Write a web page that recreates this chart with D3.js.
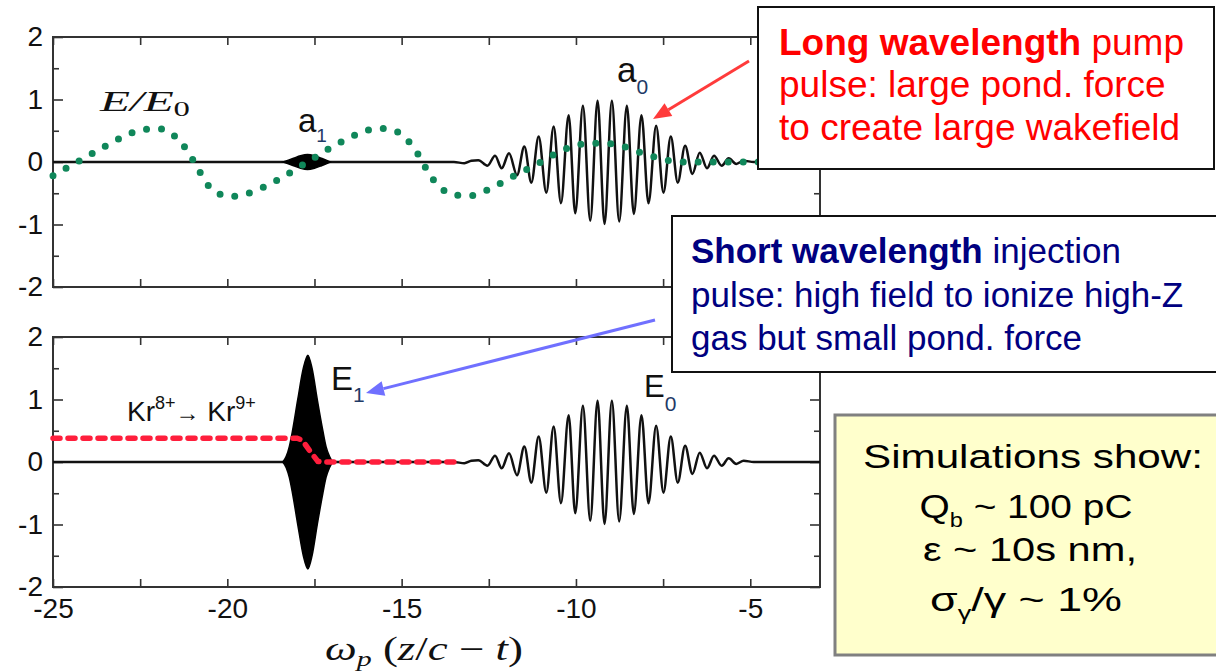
<!DOCTYPE html>
<html>
<head>
<meta charset="utf-8">
<script src="https://cdn.jsdelivr.net/npm/d3@7"></script>
<style>
  body { margin: 0; background: #ffffff; }
  svg { display: block; }
</style>
</head>
<body>
<div id="chart"></div>
<script>
// ==========================================================================
// DATA
// ==========================================================================

const xDomain = [-25, -3];
const yDomain = [-2, 2];
const xTickValues = [-25, -22.5, -20, -17.5, -15, -12.5, -10, -7.5, -5];
const xTickLabels = [-25, -20, -15, -10, -5];
const yMajorTicks = [-2, -1, 0, 1, 2];
const yMinorTicks = [-1.5, -0.5, 0.5, 1.5];

// pump pulse field (a0 / E0): extrema of the oscillation, [x, value]
const pumpPulse = [
  [-25, 0], [-13.5, 0], [-13.2, -0.02], [-13.0, 0.02], [-12.8, 0.03], [-12.54, -0.06],
  [-12.32, 0.10], [-12.13, -0.10], [-11.92, 0.14], [-11.69, -0.21], [-11.48, 0.25],
  [-11.28, -0.33], [-11.07, 0.41], [-10.85, -0.49], [-10.64, 0.57], [-10.43, -0.66],
  [-10.21, 0.75], [-10.02, -0.82], [-9.80, 0.90], [-9.59, -0.94], [-9.38, 0.98],
  [-9.18, -0.99], [-8.97, 0.98], [-8.76, -0.95], [-8.54, 0.90], [-8.34, -0.83],
  [-8.12, 0.75], [-7.92, -0.66], [-7.70, 0.58], [-7.49, -0.49], [-7.28, 0.41],
  [-7.08, -0.33], [-6.87, 0.26], [-6.66, -0.19], [-6.45, 0.15], [-6.24, -0.10],
  [-6.04, 0.10], [-5.82, -0.06], [-5.62, 0.06], [-5.40, -0.03], [-5.19, 0.02],
  [-4.9, 0], [-3, 0]
];

// wakefield E/E0 (green dots), [x, value]
const wakeField = [
  [-25.0, -0.22], [-24.4, -0.03], [-23.7, 0.19], [-23.0, 0.40], [-22.4, 0.52],
  [-21.9, 0.53], [-21.5, 0.41], [-21.1, 0.14], [-20.8, -0.15], [-20.4, -0.46],
  [-19.9, -0.55], [-19.4, -0.50], [-18.6, -0.30], [-17.7, 0.0], [-16.9, 0.27],
  [-16.2, 0.46], [-15.7, 0.54], [-15.2, 0.50], [-14.85, 0.36], [-14.5, 0.10],
  [-14.2, -0.20], [-13.9, -0.40], [-13.55, -0.52], [-13.05, -0.54], [-12.55, -0.45],
  [-11.9, -0.26], [-11.45, -0.13], [-11.0, 0.0], [-10.6, 0.13], [-10.15, 0.24],
  [-9.6, 0.30], [-9.2, 0.30], [-8.7, 0.26], [-8.3, 0.18], [-7.8, 0.09],
  [-7.4, 0.03], [-6.9, 0.0], [-3.0, 0.0]
];

// injection pulse envelopes, [x, amplitude]
const injectionA1 = [
  [-18.4, 0], [-18.1, 0.06], [-17.9, 0.10], [-17.7, 0.12], [-17.5, 0.10], [-17.3, 0.06], [-17.05, 0]
];
const injectionE1 = [
  [-18.41, 0], [-18.31, 0.09], [-18.22, 0.25], [-18.13, 0.5], [-17.98, 1.0], [-17.82, 1.5],
  [-17.69, 1.71], [-17.57, 1.5], [-17.42, 1.0], [-17.26, 0.5], [-17.17, 0.25], [-17.07, 0.09],
  [-16.98, 0]
];

// Kr8+ -> Kr9+ ionization fraction (red dashes), [x, value]
const krIonization = [
  [-25, 0.38], [-18.0, 0.38], [-17.85, 0.35], [-17.6, 0.15], [-17.4, 0.01], [-17.3, 0], [-13.5, 0]
];

// ==========================================================================
// CONFIG
// ==========================================================================

const CONFIG = {
  width: 1216,
  height: 672,
  left: 53,
  right: 820,
  topPanel: [37, 287],
  bottomPanel: [337, 587],
  tickFont: '"Liberation Sans", Arial, sans-serif',
  sans: '"Liberation Sans", Arial, sans-serif',
  serif: '"Liberation Serif", "Times New Roman", serif',
  colors: {
    line: '#111111',
    wake: '#10875a',
    ion: '#ff1e3c',
    red: '#ff0000',
    navy: '#000080',
    redArrow: '#ff3b3b',
    blueArrow: '#7070ff',
    sub: '#1f3a66'
  }
};

const svg = d3.select('#chart').append('svg')
  .attr('width', CONFIG.width)
  .attr('height', CONFIG.height);

const x = d3.scaleLinear().domain(xDomain).range([CONFIG.left, CONFIG.right]);
const yTop = d3.scaleLinear().domain(yDomain).range([CONFIG.topPanel[1], CONFIG.topPanel[0]]);
const yBot = d3.scaleLinear().domain(yDomain).range([CONFIG.bottomPanel[1], CONFIG.bottomPanel[0]]);

// ==========================================================================
// AXES / FRAMES
// ==========================================================================

function drawFrame(y, withXLabels) {
  const [y0, y1] = y.range();
  const g = svg.append('g').attr('class', 'frame');
  const fmt = d => String(d);

  g.append('g').attr('transform', `translate(${CONFIG.left},0)`)
    .call(d3.axisLeft(y).tickValues(yMajorTicks).tickSize(-10).tickPadding(10).tickFormat(fmt));
  g.append('g').attr('transform', `translate(${CONFIG.left},0)`)
    .call(d3.axisLeft(y).tickValues(yMinorTicks).tickSize(-6).tickFormat(''));
  g.append('g').attr('transform', `translate(${CONFIG.right},0)`)
    .call(d3.axisRight(y).tickValues(yMajorTicks).tickSize(-10).tickFormat(''));
  g.append('g').attr('transform', `translate(${CONFIG.right},0)`)
    .call(d3.axisRight(y).tickValues(yMinorTicks).tickSize(-6).tickFormat(''));
  g.append('g').attr('transform', `translate(0,${y1})`)
    .call(d3.axisTop(x).tickValues(xTickValues).tickSize(-8).tickFormat(''));
  g.append('g').attr('transform', `translate(0,${y0})`)
    .call(d3.axisBottom(x).tickValues(xTickValues).tickSize(-8).tickPadding(11)
      .tickFormat(d => withXLabels && xTickLabels.includes(d) ? String(d) : ''));

  g.selectAll('.domain').remove();
  g.selectAll('.tick line').attr('stroke', '#333').attr('stroke-width', 1.6);
  g.selectAll('.tick text')
    .attr('fill', '#111')
    .attr('font-family', CONFIG.tickFont)
    .attr('font-size', 28);

  g.append('rect')
    .attr('x', CONFIG.left).attr('y', y1)
    .attr('width', CONFIG.right - CONFIG.left).attr('height', y0 - y1)
    .attr('fill', 'none').attr('stroke', '#333').attr('stroke-width', 2);
}

// ==========================================================================
// CURVES
// ==========================================================================

function drawPanel(y, envelope, showIonization) {
  const line = d3.line().x(d => x(d[0])).y(d => y(d[1])).curve(d3.curveMonotoneX);
  const area = d3.area().x(d => x(d[0])).y0(d => y(-d[1])).y1(d => y(d[1])).curve(d3.curveMonotoneX);

  svg.append('path').datum(pumpPulse)
    .attr('d', line).attr('fill', 'none')
    .attr('stroke', CONFIG.colors.line).attr('stroke-width', 2.5);

  svg.append('path').datum(envelope)
    .attr('d', area).attr('fill', '#000')
    .attr('stroke', '#000').attr('stroke-width', 1.5);

  if (showIonization) {
    svg.append('path').datum(krIonization)
      .attr('d', d3.line().x(d => x(d[0])).y(d => y(d[1])))
      .attr('fill', 'none').attr('stroke', CONFIG.colors.ion)
      .attr('stroke-width', 5.5).attr('stroke-linecap', 'round')
      .attr('stroke-dasharray', '7,8');
  } else {
    svg.append('path').datum(wakeField)
      .attr('d', line).attr('fill', 'none')
      .attr('stroke', CONFIG.colors.wake).attr('stroke-width', 7)
      .attr('stroke-linecap', 'round').attr('stroke-dasharray', '0,15');
  }
}

// ==========================================================================
// LABELS
// ==========================================================================

function label(xp, yp, parts, opts) {
  const t = svg.append('text')
    .attr('x', xp).attr('y', yp)
    .style('font-family', opts.family || CONFIG.sans)
    .style('font-size', `${opts.size}px`)
    .attr('fill', opts.fill || '#111');
  if (opts.length) t.attr('textLength', opts.length).attr('lengthAdjust', 'spacingAndGlyphs');
  if (opts.anchor) t.attr('text-anchor', opts.anchor);
  parts.forEach(p => {
    const s = t.append('tspan').text(p.text);
    if (p.size) s.style('font-size', `${p.size}px`);
    if (p.dy) s.attr('dy', p.dy);
    if (p.fill) s.attr('fill', p.fill);
    if (p.weight) s.style('font-weight', p.weight);
    if (p.style) s.style('font-style', p.style);
  });
  return t;
}

function drawArrow(from, to, color, headLen, headWidth) {
  const dx = to[0] - from[0], dy = to[1] - from[1];
  const len = Math.hypot(dx, dy);
  const ux = dx / len, uy = dy / len;
  const bx = to[0] - ux * headLen, by = to[1] - uy * headLen;
  svg.append('line')
    .attr('x1', from[0]).attr('y1', from[1]).attr('x2', bx).attr('y2', by)
    .attr('stroke', color).attr('stroke-width', 3);
  svg.append('path')
    .attr('d', `M${to[0]},${to[1]}L${bx - uy * headWidth / 2},${by + ux * headWidth / 2}` +
      `L${bx + uy * headWidth / 2},${by - ux * headWidth / 2}Z`)
    .attr('fill', color);
}

// ==========================================================================
// RENDER
// ==========================================================================

drawFrame(yTop, false);
drawFrame(yBot, true);
drawPanel(yTop, injectionA1, false);
drawPanel(yBot, injectionE1, true);

const sub = CONFIG.colors.sub;

// top panel annotations
label(100, 111, [
  { text: 'E/E', style: 'italic' },
  { text: '0', size: 20, dy: 5 }
], { size: 30, family: CONFIG.serif, length: 90 });
label(298, 132, [{ text: 'a' }, { text: '1', size: 19, dy: 10, fill: sub }], { size: 33 });
label(617, 82, [{ text: 'a' }, { text: '0', size: 21, dy: 12, fill: sub }], { size: 35 });

// bottom panel annotations
label(331, 390, [{ text: 'E' }, { text: '1', size: 21, dy: 12, fill: sub }], { size: 33 });
label(644, 397, [{ text: 'E' }, { text: '0', size: 21, dy: 14, fill: sub }], { size: 31 });
label(127, 421, [
  { text: 'Kr' },
  { text: '8+', size: 18, dy: -12 },
  { text: '\u2192', size: 24, dy: 12 },
  { text: ' Kr', size: 28 },
  { text: '9+', size: 18, dy: -12 }
], { size: 28 });

// x axis title
label(325, 660, [
  { text: '\u03c9', style: 'italic' },
  { text: 'p', style: 'italic', size: 22, dy: 6 },
  { text: ' (', dy: -6 },
  { text: 'z', style: 'italic' },
  { text: '/' },
  { text: 'c', style: 'italic' },
  { text: ' \u2212 ' },
  { text: 't', style: 'italic' },
  { text: ')' }
], { size: 33, family: CONFIG.serif, length: 198 });

// ---- call-out boxes --------------------------------------------------------

// long wavelength box
svg.append('rect').attr('x', 758).attr('y', 7).attr('width', 456).attr('height', 162)
  .attr('fill', '#fff').attr('stroke', '#111').attr('stroke-width', 2);
label(779, 55, [{ text: 'Long wavelength', weight: 'bold' }, { text: ' pump' }],
  { size: 37, fill: CONFIG.colors.red });
label(779, 97, [{ text: 'pulse: large pond. force' }], { size: 37, fill: CONFIG.colors.red });
label(779, 140, [{ text: 'to create large wakefield' }], { size: 37, fill: CONFIG.colors.red });

// short wavelength box
svg.append('rect').attr('x', 672).attr('y', 216).attr('width', 580).attr('height', 156)
  .attr('fill', '#fff').attr('stroke', '#111').attr('stroke-width', 2);
label(691, 263, [{ text: 'Short wavelength', weight: 'bold' }, { text: ' injection' }],
  { size: 35, fill: CONFIG.colors.navy });
label(691, 307, [{ text: 'pulse: high field to ionize high-Z' }], { size: 35, fill: CONFIG.colors.navy });
label(691, 350, [{ text: 'gas but small pond. force' }], { size: 35, fill: CONFIG.colors.navy });

// arrows
drawArrow([749, 61], [653, 119], CONFIG.colors.redArrow, 18, 15);
drawArrow([655, 320], [366, 393], CONFIG.colors.blueArrow, 18, 15);

// simulations box
svg.append('rect').attr('x', 835).attr('y', 415).attr('width', 400).attr('height', 240)
  .attr('fill', '#ffffcc').attr('stroke', '#808080').attr('stroke-width', 3);
label(1033, 468, [{ text: 'Simulations show:' }], { size: 33, anchor: 'middle', fill: '#000', length: 340 });
label(1026, 518, [
  { text: 'Q' }, { text: 'b', size: 20, dy: 9 }, { text: ' ~ 100 pC', dy: -9 }
], { size: 33, anchor: 'middle', fill: '#000', length: 213 });
label(1030, 561, [{ text: '\u03b5 ~ 10s nm,' }], { size: 33, anchor: 'middle', fill: '#000', length: 214 });
label(1026, 611, [
  { text: '\u03c3' }, { text: '\u03b3', size: 20, dy: 9 }, { text: '/\u03b3 ~ 1%', dy: -9 }
], { size: 33, anchor: 'middle', fill: '#000', length: 192 });
</script>
</body>
</html>
